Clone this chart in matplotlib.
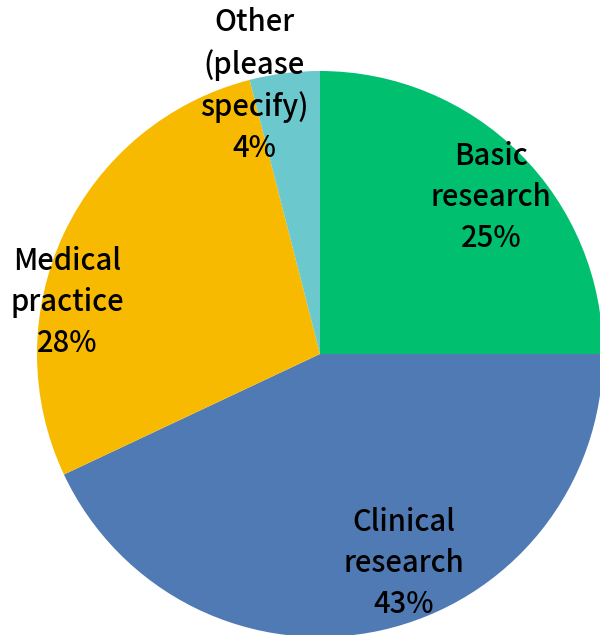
import matplotlib
matplotlib.use("Agg")
import matplotlib.pyplot as plt

# research area shares (%)
categories = ["Basic\nresearch", "Clinical\nresearch", "Medical\npractice", "Other\n(please\nspecify)"]
shares = [25, 43, 28, 4]
colors = ["#00BF6F", "#4F7AB4", "#F8BA00", "#6BC8CC"]

# label centres in axis units (radius = 1)
label_pos = [(0.604, 0.553), (0.297, -0.741), (-0.894, 0.182), (-0.233, 0.948)]

plt.rcParams["font.family"] = ["Noto Sans CJK JP", "DejaVu Sans"]

fig = plt.figure(figsize=(6, 6.35), dpi=100)
ax = fig.add_axes([0, 0, 1, 1])

ax.pie(
    shares,
    colors=colors,
    startangle=90,
    counterclock=False,
    radius=1,
    wedgeprops=dict(linewidth=0),
)

for cat, val, (x, y) in zip(categories, shares, label_pos):
    ax.text(
        x, y, f"{cat}\n{val}%",
        ha="center", va="center",
        fontsize=21, fontweight="medium",
        linespacing=1.42,
    )

scale = 283.0
ax.set_xlim(-320 / scale, 280 / scale)
ax.set_ylim(-281 / scale, 354 / scale)
ax.set_aspect("equal")
ax.axis("off")

fig.savefig("out.png", dpi=100)
